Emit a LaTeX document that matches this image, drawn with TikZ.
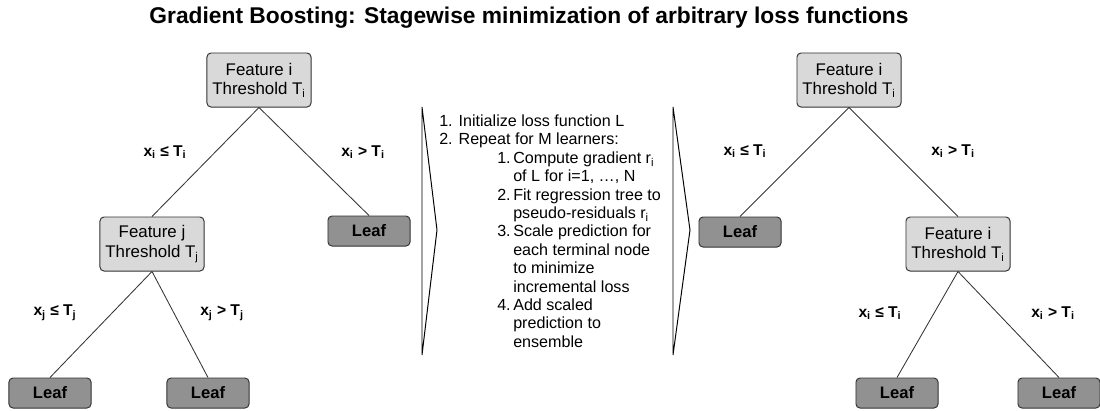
\documentclass[tikz,border=0pt]{standalone}
\usepackage{fontspec}
\setmainfont{Liberation Sans}
\usepackage{xcolor}
\usepackage{tikz}
\definecolor{boxline}{HTML}{333333}
\definecolor{featfill}{HTML}{D9D9D9}
\definecolor{leaffill}{HTML}{919191}
\tikzset{
  feat/.style={draw=boxline,fill=featfill,rounded corners=0.1cm,line width=0.7pt,minimum width=2.6cm,minimum height=1.35cm,inner sep=0pt,align=center,font=\fontsize{12}{14}\selectfont},
  leaf/.style={draw=boxline,fill=leaffill,rounded corners=0.1cm,line width=0.7pt,minimum width=2.05cm,minimum height=0.75cm,inner sep=0pt,font=\fontsize{11.8}{14}\selectfont\bfseries},
  br/.style={draw=boxline,line width=0.6pt},
  cond/.style={inner sep=0pt,font=\fontsize{11.1}{14}\selectfont\bfseries},
  lst/.style={anchor=base west,inner sep=0pt,font=\fontsize{11.45}{14}\selectfont},
  chev/.style={draw=black,line width=0.7pt,line join=miter}
}
\newcommand{\sbs}[1]{\textsubscript{#1}}
\newcommand{\thr}[2]{Feature #1\\Threshold T\sbs{#2}}
\newcommand{\cnd}[2]{x\sbs{#1} #2 T\sbs{#1}}

\begin{document}
\begin{tikzpicture}[x=0.025cm,y=-0.025cm]
\useasboundingbox (0,0) rectangle (1100,410);
\node[anchor=base,inner sep=0pt,font=\fontsize{16.2}{18}\selectfont\bfseries] (title) at (529,23.5) {Gradient Boosting: Stagewise minimization of arbitrary loss functions};

% first tree
\node[feat] (rootA) at (259,80) {\thr{i}{i}};
\node[feat] (featA) at (152,244) {\thr{j}{j}};
\node[leaf] (leafA) at (369,231) {Leaf};
\node[leaf] (leafB) at (50,393) {Leaf};
\node[leaf] (leafC) at (208,393) {Leaf};
\draw[br] (rootA.south) -- (featA.north);
\draw[br] (rootA.south) -- (leafA.north);
\draw[br] (featA.south) -- (leafB.north);
\draw[br] (featA.south) -- (leafC.north);
\node[cond] (cA1) at (165,152) {\cnd{i}{≤}};
\node[cond] (cA2) at (363,152) {\cnd{i}{>}};
\node[cond] (cA3) at (55,313) {\cnd{j}{≤}};
\node[cond] (cA4) at (222,313) {\cnd{j}{>}};

% steps between the trees
\draw[chev] (422,107) -- (437,230) -- (422,355) -- cycle;
\draw[chev] (673,107) -- (690,230) -- (673,355) -- cycle;
\node[lst] (l1) at (439,126.5) {1. Initialize loss function L};
\node[lst] (l2) at (439,144.9) {2. Repeat for M learners:};
\node[lst] (n1) at (497,163.3) {1.};
\node[lst] (l3) at (513,163.3) {Compute gradient r\sbs{i}};
\node[lst] (l4) at (513,181.7) {of L for i=1, …, N};
\node[lst] (n2) at (497,200.1) {2.};
\node[lst] (l5) at (513,200.1) {Fit regression tree to};
\node[lst] (l6) at (513,218.5) {pseudo-residuals r\sbs{i}};
\node[lst] (n3) at (497,236.9) {3.};
\node[lst] (l7) at (513,236.9) {Scale prediction for};
\node[lst] (l8) at (513,255.3) {each terminal node};
\node[lst] (l9) at (513,273.7) {to minimize};
\node[lst] (l10) at (513,292.1) {incremental loss};
\node[lst] (n4) at (497,310.5) {4.};
\node[lst] (l11) at (513,310.5) {Add scaled};
\node[lst] (l12) at (513,328.9) {prediction to};
\node[lst] (l13) at (513,347.3) {ensemble};

% second tree
\node[feat] (rootB) at (849,80) {\thr{i}{i}};
\node[leaf] (leafD) at (740,232) {Leaf};
\node[feat] (featB) at (958,244) {\thr{i}{i}};
\node[leaf] (leafE) at (897,393) {Leaf};
\node[leaf] (leafF) at (1059,393) {Leaf};
\draw[br] (rootB.south) -- (leafD.north);
\draw[br] (rootB.south) -- (featB.north);
\draw[br] (featB.south) -- (leafE.north);
\draw[br] (featB.south) -- (leafF.north);
\node[cond] (cB1) at (745,151) {\cnd{i}{≤}};
\node[cond] (cB2) at (953,151) {\cnd{i}{>}};
\node[cond] (cB3) at (880,313) {\cnd{i}{≤}};
\node[cond] (cB4) at (1053,313) {\cnd{i}{>}};
\end{tikzpicture}
\end{document}
